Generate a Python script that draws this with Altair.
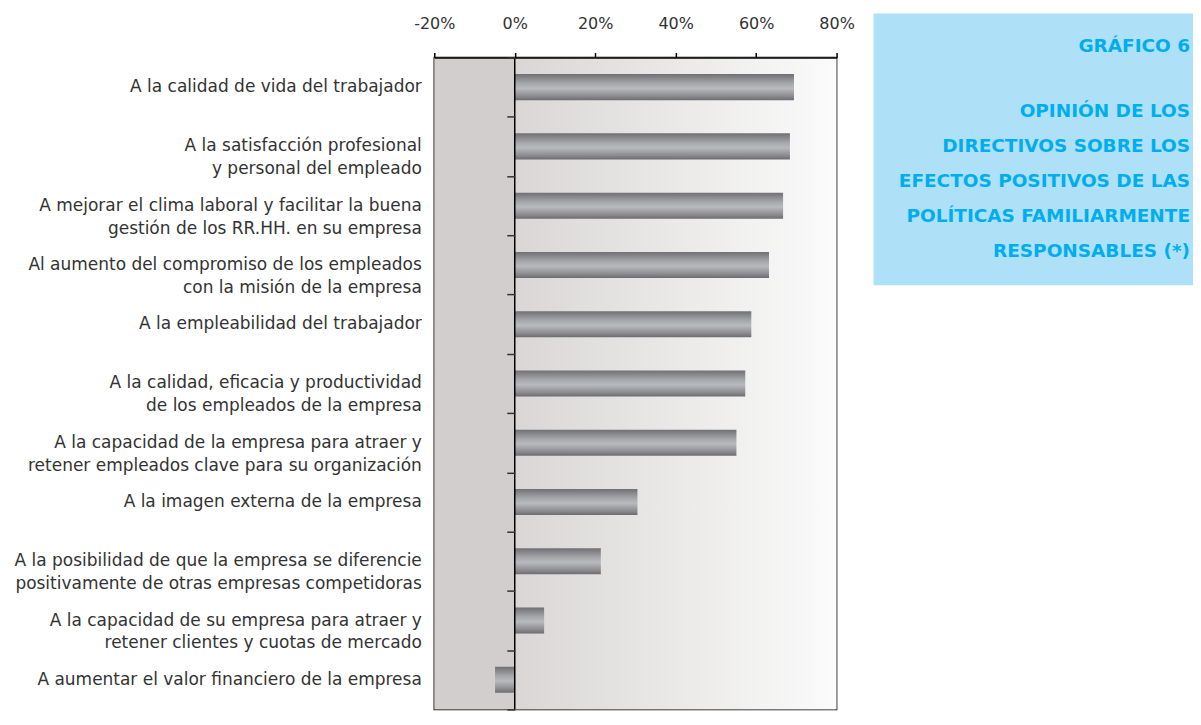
import altair as alt
import pandas as pd

categories = [
    "A la calidad de vida del trabajador",
    "A la satisfacción profesional|y personal del empleado",
    "A mejorar el clima laboral y facilitar la buena|gestión de los RR.HH. en su empresa",
    "Al aumento del compromiso de los empleados|con la misión de la empresa",
    "A la empleabilidad del trabajador",
    "A la calidad, eficacia y productividad|de los empleados de la empresa",
    "A la capacidad de la empresa para atraer y|retener empleados clave para su organización",
    "A la imagen externa de la empresa",
    "A la posibilidad de que la empresa se diferencie|positivamente de otras empresas competidoras",
    "A la capacidad de su empresa para atraer y|retener clientes y cuotas de mercado",
    "A aumentar el valor financiero de la empresa",
]
values = [69.4, 68.4, 66.7, 63.2, 58.8, 57.3, 55.1, 30.5, 21.4, 7.3, -4.9]
axis_ticks = [-20, 0, 20, 40, 60, 80]
title_head = "GRÁFICO 6"
title_lines = [
    "OPINIÓN DE LOS",
    "DIRECTIVOS SOBRE LOS",
    "EFECTOS POSITIVOS DE LAS",
    "POLÍTICAS FAMILIARMENTE",
    "RESPONSABLES (*)",
]

df = pd.DataFrame({"cat": categories, "val": values})
neg_bg = pd.DataFrame({"x": [-20], "x2": [0]})
pos_bg = pd.DataFrame({"x": [0], "x2": [80]})
zero = pd.DataFrame({"x": [0]})

W, H = 403, 653
FONT = "DejaVu Sans"

xscale = alt.Scale(domain=[-20, 80], nice=False, zero=False)
yscale = alt.Scale(paddingInner=0.56, paddingOuter=0.28)
ytickscale = alt.Scale(paddingInner=0, paddingOuter=0)

xaxis = alt.Axis(orient="top", values=axis_ticks, labelExpr="datum.value + '%'",
                 grid=False, domainColor="black", domainWidth=1.5,
                 tickColor="black", tickWidth=1.5, tickSize=5, labelFlush=False,
                 labelPadding=21, labelFontSize=16, labelColor="#333333",
                 labelFont=FONT, title=None, zindex=2)

bg_left = alt.Chart(neg_bg).mark_rect(color="#d2cece").encode(
    x=alt.X("x:Q", scale=xscale, axis=xaxis),
    x2="x2:Q",
)
bg_right = alt.Chart(pos_bg).mark_rect(
    color=alt.LinearGradient(
        gradient="linear", x1=0, y1=0, x2=1, y2=0,
        stops=[alt.GradientStop(color="#dad6d6", offset=0),
               alt.GradientStop(color="#ecebea", offset=0.55),
               alt.GradientStop(color="#fbfbfb", offset=1)],
    )
).encode(
    x=alt.X("x:Q", scale=xscale, axis=xaxis),
    x2="x2:Q",
)

bars = alt.Chart(df).mark_bar(
    color=alt.LinearGradient(
        gradient="linear", x1=0, y1=0, x2=0, y2=1,
        stops=[alt.GradientStop(color="#6f6f74", offset=0),
               alt.GradientStop(color="#a5a6aa", offset=0.35),
               alt.GradientStop(color="#b9babe", offset=0.55),
               alt.GradientStop(color="#8a8a8f", offset=0.85),
               alt.GradientStop(color="#6c6c70", offset=1)],
    )
).encode(
    x=alt.X("val:Q", scale=xscale, axis=xaxis),
    x2=alt.value(W * 20 / 100),
    y=alt.Y("cat:N", sort=categories, scale=yscale,
            axis=alt.Axis(orient="left", ticks=False, domain=False, labelPadding=13,
                          labelFontSize=17, labelColor="#333333", labelFont=FONT,
                          labelLimit=0, labelLineHeight=23,
                          labelExpr="split(datum.label, '|')", title=None)),
)

tick_axis = alt.Chart(df).mark_point(opacity=0).encode(
    x=alt.X("val:Q", scale=xscale, axis=xaxis),
    y=alt.Y("cat:N", sort=categories, scale=ytickscale,
            axis=alt.Axis(orient="left", labels=False, domain=False, ticks=True,
                          tickBand="extent", tickSize=8, tickColor="#333333",
                          tickWidth=1.5, offset=-W * 20 / 100, title=None, zindex=2)),
)

zero_rule = alt.Chart(zero).mark_rule(color="black", strokeWidth=1.5).encode(
    x=alt.X("x:Q", scale=xscale, axis=xaxis)
)

main = alt.layer(bg_left, bg_right, bars, zero_rule, tick_axis).resolve_axis(
    y="independent", x="shared"
).resolve_scale(y="independent", x="shared").properties(
    width=W, height=H, view=alt.ViewBackground(stroke="black", strokeWidth=1.5)
)

PW = 320
BOX_TOP = -44
one = pd.DataFrame({"t": [0]})
box = alt.Chart(one).mark_rect(color="#aee0f7").encode(
    x=alt.value(0), x2=alt.value(PW), y=alt.value(BOX_TOP), y2=alt.value(BOX_TOP + 272)
)
head = alt.Chart(one).mark_text(
    text=title_head, align="right", baseline="top", font=FONT, fontSize=18.5,
    fontWeight="bold", color="#00aeef",
).encode(x=alt.value(PW - 3), y=alt.value(BOX_TOP + 23))
body = alt.Chart(one).mark_text(
    text=title_lines, align="right", baseline="top", font=FONT, fontSize=18.5,
    fontWeight="bold", color="#00aeef", lineHeight=35,
).encode(x=alt.value(PW - 3), y=alt.value(BOX_TOP + 89))

title_panel = alt.layer(box, head, body).properties(
    width=PW, height=228, view=alt.ViewBackground(stroke=None)
)

chart = alt.hconcat(main, title_panel, spacing=18).configure(
    background="white", padding={"left": 5, "top": 5, "right": 0, "bottom": 0}
)

chart.save("out.html", embed_options={"renderer": "svg", "actions": False})
